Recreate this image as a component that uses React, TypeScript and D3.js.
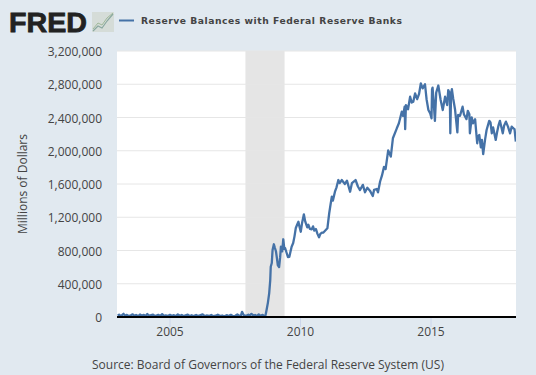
import React from "react";
import * as d3 from "d3";

const years = [
  2003.0,2003.05,2003.1,2003.16,2003.22,2003.28,2003.35,2003.42,2003.5,2003.57,2003.64,2003.7,2003.78,2003.85,2003.92,
  2004.0,2004.06,2004.13,2004.2,2004.28,2004.35,2004.42,2004.48,2004.55,2004.62,2004.7,2004.76,2004.84,2004.92,
  2005.0,2005.08,2005.15,2005.22,2005.3,2005.38,2005.45,2005.52,2005.6,2005.68,2005.75,2005.83,2005.9,
  2006.0,2006.08,2006.15,2006.25,2006.33,2006.4,2006.5,2006.58,2006.66,2006.75,2006.83,2006.92,
  2007.0,2007.08,2007.17,2007.25,2007.33,2007.42,2007.5,2007.58,2007.66,2007.72,2007.76,2007.82,2007.9,
  2008.0,2008.05,2008.12,2008.2,2008.26,2008.33,2008.4,2008.47,2008.55,2008.62,2008.66,
  2008.70,2008.75,2008.80,2008.84,2008.86,2008.90,2008.93,2008.98,2009.02,2009.06,
  2009.10,2009.13,2009.18,2009.22,2009.25,2009.30,2009.34,2009.38,2009.41,2009.47,
  2009.52,2009.57,2009.62,2009.66,2009.72,2009.77,2009.82,2009.87,2009.92,2009.96,
  2010.01,2010.06,2010.13,2010.18,2010.26,2010.30,2010.36,2010.43,2010.48,2010.53,
  2010.59,2010.65,2010.71,2010.76,2010.82,2010.87,2010.95,2011.03,2011.10,2011.15,
  2011.20,2011.24,2011.32,2011.38,2011.45,2011.50,2011.58,2011.70,2011.78,2011.90,
  2011.97,2012.11,2012.20,2012.28,2012.39,2012.47,2012.56,2012.66,2012.77,2012.82,
  2012.92,2012.97,2013.05,2013.12,2013.20,2013.26,2013.36,2013.46,2013.54,2013.69,
  2013.77,2013.88,2013.93,2013.99,2014.01,2014.04,2014.12,2014.20,2014.26,2014.32,
  2014.39,2014.47,2014.54,2014.61,2014.68,2014.77,2014.83,2014.90,2014.97,2015.02,
  2015.04,2015.06,2015.10,2015.15,2015.20,2015.28,2015.37,2015.45,2015.54,2015.62,
  2015.66,2015.72,2015.74,2015.77,2015.80,2015.85,2015.92,2016.01,2016.04,2016.11,
  2016.21,2016.26,2016.36,2016.41,2016.47,2016.49,2016.56,2016.61,2016.69,2016.72,
  2016.77,2016.80,2016.85,2016.91,2016.95,2017.00,2017.07,2017.13,2017.23,2017.28,
  2017.33,2017.38,2017.48,2017.53,2017.59,2017.64,2017.70,2017.75,2017.80,2017.87,
  2017.95,2018.03,2018.09,2018.15,2018.20,2018.25,
];
const reserves = [
  15,28,12,22,38,14,26,10,20,32,13,24,11,30,16,
  25,12,36,14,22,28,10,18,26,12,34,15,20,11,
  26,13,22,9,30,14,24,10,19,28,12,21,10,
  24,11,20,32,10,18,13,25,10,16,28,11,
  18,9,22,12,26,10,14,30,12,20,62,24,12,
  28,14,38,16,24,12,32,14,26,11,22,
  84,170,285,440,605,650,806,875,830,790,
  700,625,600,720,846,790,935,820,830,770,
  720,722,790,846,890,970,1071,1110,1146,1090,
  1026,1130,1235,1150,1079,1110,1060,1055,1090,1040,
  1059,1000,959,1000,1014,1014,1040,1067,1248,1350,
  1447,1400,1507,1560,1648,1610,1648,1600,1640,1507,
  1610,1648,1570,1527,1590,1500,1555,1520,1455,1530,
  1540,1500,1630,1700,1806,1780,2005,1930,2150,2270,
  2330,2470,2420,2530,2260,2550,2500,2650,2580,2590,
  2690,2620,2680,2810,2750,2800,2620,2490,2450,2390,
  2740,2760,2600,2360,2700,2785,2610,2490,2650,2550,
  2730,2690,2210,2690,2740,2630,2500,2220,2430,2420,
  2530,2440,2380,2480,2440,2210,2400,2330,2380,2270,
  2090,2170,2190,2040,2130,1960,2130,2250,2360,2340,
  2210,2280,2130,2220,2310,2360,2280,2210,2300,2350,
  2290,2210,2290,2270,2260,2110,
];

const yTicks = [0, 400, 800, 1200, 1600, 2000, 2400, 2800, 3200];
const xTicks = [2005, 2010, 2015];
const recession = [2007.89, 2009.39];
const title = "Reserve Balances with Federal Reserve Banks";
const source = "Source: Board of Governors of the Federal Reserve System (US)";
const yLabel = "Millions of Dollars";

const W = 536, H = 375;
const x = d3.scaleLinear().domain([2005, 2015]).range([170, 431]);
const y = d3.scaleLinear().domain([0, 3200]).range([317, 51]);
const font = "'Open Sans', sans-serif";
const textColor = "#444";

export default function App() {
  const line = d3.line<number>()
    .x((_, i) => x(years[i]))
    .y((d) => y(d));
  return (
    <svg width={W} height={H} style={{ position: "absolute", left: 0, top: 0, display: "block" }}>
      <rect width={W} height={H} fill="#e1e9f0" />
      <rect x={117} y={51} width={399} height={266} fill="#fff" />
      <rect x={x(recession[0])} y={51} width={x(recession[1]) - x(recession[0])} height={266} fill="#e5e5e5" />
      {yTicks.slice(1).map((t) => (
        <line key={t} x1={117} x2={516} y1={y(t)} y2={y(t)} stroke="#e6e6e6" strokeWidth={1} />
      ))}
      {xTicks.map((t) => (
        <g key={t}>
          <line x1={x(t)} x2={x(t)} y1={318} y2={327} stroke="#ccd6eb" strokeWidth={1} />
          <text x={x(t)} y={336} textAnchor="middle" fontFamily={font} fontSize={12} fill={textColor}>{t}</text>
        </g>
      ))}
      {yTicks.map((t) => (
        <text key={t} x={102} y={y(t) + 5} textAnchor="end" fontFamily={font} fontSize={12} fill={textColor}>
          {d3.format(",")(t * 1000)}
        </text>
      ))}
      <defs>
        <clipPath id="plot"><rect x={117} y={51} width={399} height={266} /></clipPath>
      </defs>
      <path d={line(reserves) ?? ""} fill="none" stroke="#4572a7" strokeWidth={2.3} strokeLinejoin="round" clipPath="url(#plot)" />
      <line x1={117} x2={516} y1={317} y2={317} stroke="#000" strokeWidth={2} />
      <text transform="translate(27,184) rotate(-90)" textAnchor="middle" fontFamily={font} fontSize={12} fill={textColor}>{yLabel}</text>
      <text x={268} y={369} textAnchor="middle" fontFamily={font} fontSize={12} fill={textColor}>{source}</text>

      <text x={9} y={32} fontFamily="'Liberation Sans', sans-serif" fontWeight={700} fontSize={28} fill="#222" textLength={78} lengthAdjust="spacingAndGlyphs" stroke="#222" strokeWidth={0.8}>FRED</text>
      <rect x={92} y={12} width={22} height={20} fill="#d5dcd8" />
      <polyline points="93,31 98,26 102,28 107,21 113,14" fill="none" stroke="#8aa8a0" strokeWidth={1.2} />
      <polyline points="93,29 98,23 102,25 107,18 113,13" fill="none" stroke="#9fb89a" strokeWidth={1} />
      <line x1={119} x2={134} y1={20.5} y2={20.5} stroke="#4572a7" strokeWidth={2} />
      <text x={141} y={24} fontFamily="'DejaVu Sans', sans-serif" fontWeight={700} fontSize={9.2} fill="#444" textLength={261} lengthAdjust="spacing">{title}</text>
    </svg>
  );
}
